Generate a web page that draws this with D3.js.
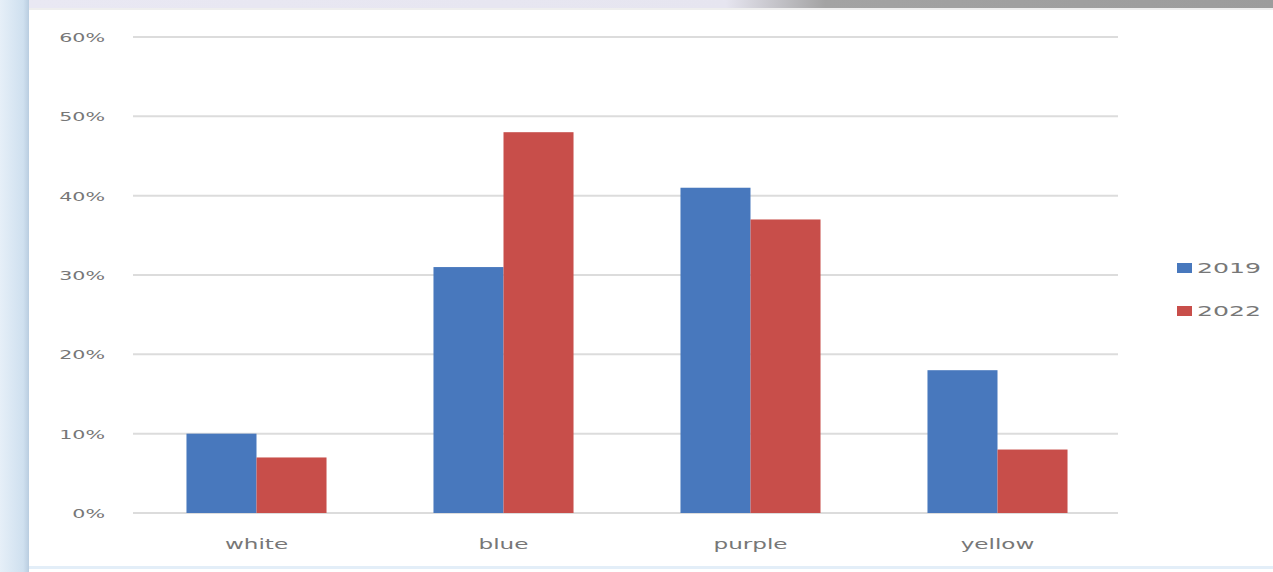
<!DOCTYPE html>
<html><head><meta charset="utf-8">
<script src="https://cdn.jsdelivr.net/npm/d3@7"></script>
<style>html,body{margin:0;padding:0;background:#fff;overflow:hidden}</style>
</head><body>
<svg id="c" width="1273" height="572"></svg>
<script>
const categories = ["white", "blue", "purple", "yellow"];
const seriesNames = ["2019", "2022"];
const values2019 = [0.10, 0.31, 0.41, 0.18];
const values2022 = [0.07, 0.48, 0.37, 0.08];
const yTicks = [0, 0.1, 0.2, 0.3, 0.4, 0.5, 0.6];
const colors = ["#4878bd", "#c84e4a"];

const svg = d3.select("#c");
const W = 1273, H = 572;
const defs = svg.append("defs");
const font = "'DejaVu Sans', sans-serif";
const txtCol = "#777777";

// frame decoration
const lg = defs.append("linearGradient").attr("id","lstrip").attr("x1",0).attr("x2",1).attr("y1",0).attr("y2",0);
lg.append("stop").attr("offset","0").attr("stop-color","#e6eff8");
lg.append("stop").attr("offset","0.8").attr("stop-color","#cfe0ef");
lg.append("stop").attr("offset","1").attr("stop-color","#b9cde0");
svg.append("rect").attr("x",0).attr("y",0).attr("width",29).attr("height",H).attr("fill","url(#lstrip)");
const tg = defs.append("linearGradient").attr("id","tstrip").attr("x1",0).attr("x2",1).attr("y1",0).attr("y2",0);
tg.append("stop").attr("offset","0").attr("stop-color","#e9e8f3");
tg.append("stop").attr("offset","0.56").attr("stop-color","#e6e5f0");
tg.append("stop").attr("offset","0.64").attr("stop-color","#a3a3a3");
tg.append("stop").attr("offset","1").attr("stop-color","#9c9c9c");
svg.append("rect").attr("x",29).attr("y",0).attr("width",W-29).attr("height",8).attr("fill","url(#tstrip)");
svg.append("rect").attr("x",29).attr("y",8).attr("width",W-29).attr("height",2).attr("fill","#eeeeee");
svg.append("rect").attr("x",29).attr("y",566).attr("width",W-29).attr("height",3).attr("fill","#e3eef8");

const x0 = d3.scaleBand().domain(categories).range([133, 1121]).paddingInner(0.433).paddingOuter(0.2165);
const x1 = d3.scaleBand().domain(seriesNames).range([0, x0.bandwidth()]);
const y = d3.scaleLinear().domain([0, 0.6]).range([513, 37]);

// y axis labels
const yAxis = d3.axisLeft(y).tickValues(yTicks).tickFormat(d3.format(".0%")).tickSize(0).tickPadding(0);
const yg = svg.append("g").attr("transform","translate(105,0)").call(yAxis);
yg.select(".domain").remove();
yg.selectAll("text").attr("x",0).attr("fill",txtCol).style("font-family",font).style("font-size","12.5px")
  .attr("dy","0.36em").attr("transform","scale(1.65,1)");
// gridlines
svg.append("g").selectAll("line").data(yTicks).join("line")
  .attr("x1",133).attr("x2",1118).attr("y1",d=>y(d)).attr("y2",d=>y(d))
  .attr("stroke","#dcdcdc").attr("stroke-width",2);

const series = [values2019, values2022];
const g = svg.append("g");
categories.forEach((c,i)=>{
  seriesNames.forEach((s,j)=>{
    g.append("rect")
      .attr("x", x0(c)+x1(s)).attr("width", x1.bandwidth())
      .attr("y", y(series[j][i])).attr("height", y(0)-y(series[j][i]))
      .attr("fill", colors[j]);
  });
});

// x axis labels
const xAxis = d3.axisBottom(x0).tickSize(0).tickPadding(0);
const xg = svg.append("g").attr("transform","translate(0,539)").call(xAxis);
xg.select(".domain").remove();
xg.selectAll("text").attr("fill",txtCol).style("font-family",font).style("font-size","14px")
  .attr("transform","scale(1.65,1)");

// legend
const leg = svg.append("g");
seriesNames.forEach((s,j)=>{
  const yy = 268 + j*43;
  leg.append("rect").attr("x",1177).attr("y",yy-5).attr("width",15).attr("height",10).attr("fill",colors[j]);
  leg.append("text").attr("x",0).attr("y",0).attr("dy","0.36em").text(s)
    .attr("transform",`translate(1197,${yy}) scale(1.8,1)`)
    .attr("fill",txtCol).style("font-family",font).style("font-size","14px");
});
</script>
</body></html>
